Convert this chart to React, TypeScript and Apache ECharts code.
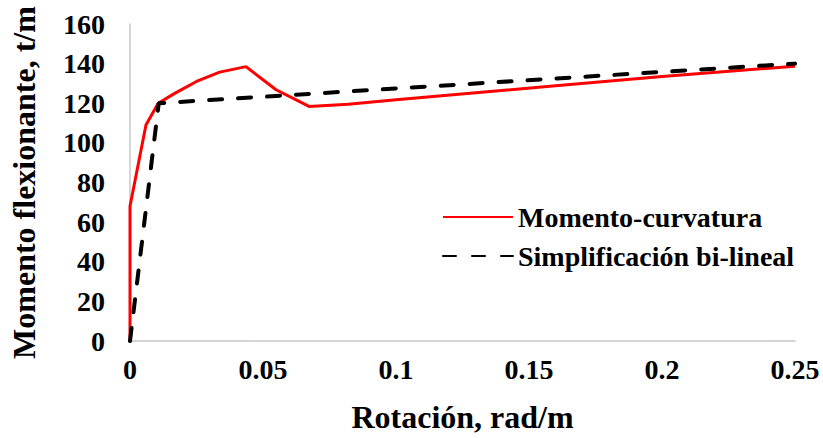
import React, { useEffect, useRef } from "react";
import * as echarts from "echarts";

const seriesNames = ["Momento-curvatura", "Simplificación bi-lineal"];
const curvX = [0, 0, 0.006, 0.0106, 0.0168, 0.025, 0.0337, 0.0436, 0.0549, 0.0673, 0.082, 0.1, 0.13, 0.16, 0.2, 0.25];
const curvY = [0, 68, 109, 120, 125, 131, 135.7, 138.5, 126.8, 118.4, 119.5, 121.8, 125.3, 128.8, 133.5, 138.7];
const bilinX = [0, 0.0108, 0.25];
const bilinY = [0, 120, 140];

const FONT = "'Liberation Serif', 'Times New Roman', serif";

export default function App() {
  const ref = useRef<HTMLDivElement>(null);
  useEffect(() => {
    if (!ref.current) return;
    const chart = echarts.init(ref.current, null, { renderer: "svg" });
    chart.setOption({
      animation: false,
      backgroundColor: "#ffffff",
      textStyle: { fontFamily: FONT },
      grid: { left: 127, right: 28, top: 24, bottom: 96, containLabel: false },
      legend: {
        orient: "vertical",
        left: 437,
        top: 197,
        itemWidth: 70,
        itemHeight: 14,
        itemGap: 9,
        itemStyle: { opacity: 0 },
        textStyle: { fontFamily: FONT, fontSize: 28, fontWeight: "bold", color: "#000", lineHeight: 30 },
        data: seriesNames,
      },
      xAxis: {
        type: "value",
        min: 0,
        max: 0.25,
        interval: 0.05,
        name: "Rotación, rad/m",
        nameLocation: "middle",
        nameGap: 60,
        nameTextStyle: { fontFamily: FONT, fontSize: 32, fontWeight: "bold", color: "#000" },
        axisLine: { show: true, lineStyle: { color: "#c8c8c8", width: 1.5 } },
        axisTick: { show: false },
        splitLine: { show: false },
        axisLabel: { fontFamily: FONT, fontSize: 28, fontWeight: "bold", color: "#000", margin: 14 },
      },
      yAxis: {
        type: "value",
        min: 0,
        max: 160,
        interval: 20,
        name: "Momento flexionante, t/m",
        nameLocation: "middle",
        nameGap: 90,
        nameTextStyle: { fontFamily: FONT, fontSize: 32, fontWeight: "bold", color: "#000" },
        axisLine: { show: true, lineStyle: { color: "#c8c8c8", width: 1.5 } },
        axisTick: { show: false },
        splitLine: { show: false },
        axisLabel: { fontFamily: FONT, fontSize: 28, fontWeight: "bold", color: "#000", margin: 25 },
      },
      series: [
        {
          name: seriesNames[0],
          type: "line",
          data: curvX.map((x, i) => [x, curvY[i]]),
          showSymbol: false,
          symbol: "none",
          lineStyle: { color: "#ff0000", width: 3 },
          itemStyle: { color: "#ff0000" },
        },
        {
          name: seriesNames[1],
          type: "line",
          data: bilinX.map((x, i) => [x, bilinY[i]]),
          showSymbol: false,
          symbol: "none",
          lineStyle: { color: "#000000", width: 4, type: [13, 16], cap: "round" },
          itemStyle: { color: "#000000" },
        },
      ],
    });
    return () => chart.dispose();
  }, []);
  return <div ref={ref} style={{ width: 823, height: 438, position: "absolute", left: 0, top: 0 }} />;
}
